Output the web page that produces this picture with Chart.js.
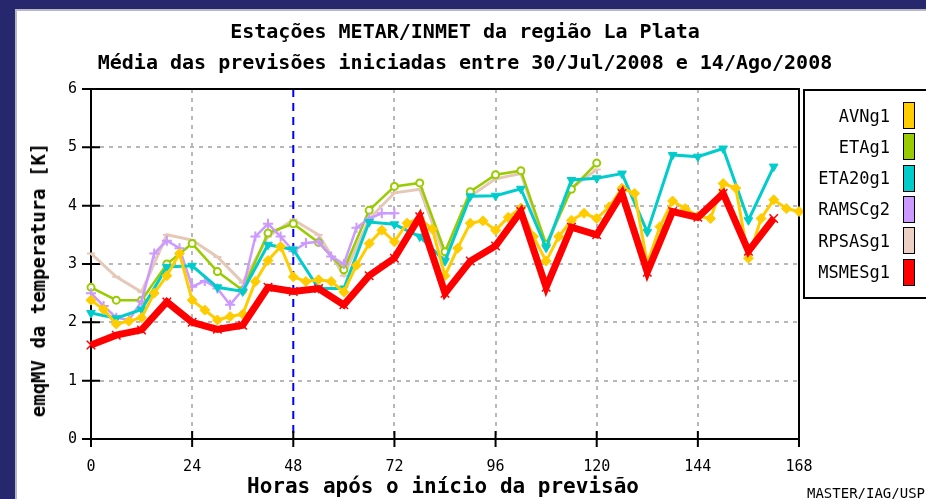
<!DOCTYPE html>
<html>
<head>
<meta charset="utf-8">
<script src="https://cdn.jsdelivr.net/npm/chart.js@4.4.0/dist/chart.umd.min.js"></script>
<style>
  html, body { margin: 0; padding: 0; }
  body {
    width: 926px; height: 499px; position: relative; overflow: hidden;
    background: #27276d; font-family: 'DejaVu Sans Mono', monospace;
  }
  #panel {
    position: absolute; left: 15px; top: 9px; right: 0; bottom: 0;
    background: #fff; border-left: 2px solid #b8b8c4; border-top: 2px solid #b8b8c4;
  }
  #chart { position: absolute; left: 0; top: 0; }
  .txt { position: absolute; white-space: nowrap; color: #000; }
  .title { font-weight: bold; font-size: 20px; left: 465px; transform: translate(-50%, -50%); }
  #ytitle { font-weight: bold; font-size: 19px; left: 38px; top: 280px; transform: translate(-50%, -50%) rotate(-90deg); }
  #xtitle { font-weight: bold; font-size: 21px; left: 443px; top: 486px; transform: translate(-50%, -50%); }
  #credit { font-size: 14px; right: 1px; top: 493px; transform: translateY(-50%); }
  #legend {
    position: absolute; left: 803px; top: 89px; width: 140px; height: 210px;
    border: 2px solid #000; box-sizing: border-box;
  }
  .lrow { position: absolute; left: 0; height: 27px; width: 120px; }
  .lrow span { position: absolute; right: 35px; top: 50%; transform: translateY(-50%); font-size: 17px; }
  .lrow i { position: absolute; left: 98px; top: 0; width: 10px; height: 25px; border: 1px solid #000; }
</style>
</head>
<body>
<div id="panel"></div>
<canvas id="chart" width="926" height="499"></canvas>
<div class="txt title" style="top:31px">Estações METAR/INMET da região La Plata</div>
<div class="txt title" style="top:62px">Média das previsões iniciadas entre 30/Jul/2008 e 14/Ago/2008</div>
<div class="txt" id="ytitle">emqMV da temperatura [K]</div>
<div class="txt" id="xtitle">Horas após o início da previsão</div>
<div class="txt" id="credit">MASTER/IAG/USP</div>
<div id="legend"></div>
<script>
// Forecast hours on the x axis and mean-error values on the y axis
const xTicks = [0, 24, 48, 72, 96, 120, 144, 168];
const yTicks = [0, 1, 2, 3, 4, 5, 6];
const ANALYSIS_HOUR = 48;

const seriesNames = ['AVNg1', 'ETAg1', 'ETA20g1', 'RAMSCg2', 'RPSASg1', 'MSMESg1'];
const seriesColors = ['#ffcc00', '#99cc00', '#00cccc', '#cc99ff', '#e6c8b8', '#ff0000'];
const legendColors = ['#ffcc00', '#99cc00', '#00cccc', '#cc99ff', '#ecd0c4', '#ff0000'];

// output interval (hours) of each model
const avnStep = 3, etaStep = 6, eta20Step = 6, ramsStep = 3, rpsasStep = 6, msmesStep = 6;

const avnValues = [2.38, 2.22, 1.97, 2.02, 2.08, 2.50, 2.80, 3.18, 2.38, 2.21, 2.04, 2.10, 2.14, 2.70,
  3.06, 3.30, 2.78, 2.70, 2.73, 2.70, 2.52, 2.98, 3.35, 3.58, 3.38, 3.70, 3.78, 3.60, 2.80, 3.27, 3.70,
  3.74, 3.58, 3.80, 3.96, 3.47, 3.05, 3.47, 3.75, 3.87, 3.78, 3.98, 4.30, 4.21, 3.01, 3.64, 4.08, 3.95,
  3.82, 3.78, 4.38, 4.30, 3.10, 3.78, 4.10, 3.95, 3.90];
const etaValues = [2.60, 2.38, 2.38, 3.00, 3.35, 2.87, 2.55, 3.53, 3.69, 3.37, 2.90, 3.92, 4.33, 4.39,
  3.21, 4.24, 4.53, 4.60, 3.34, 4.28, 4.73];
const eta20Values = [2.16, 2.07, 2.22, 2.95, 2.97, 2.60, 2.53, 3.33, 3.25, 2.58, 2.58, 3.72, 3.68, 3.47,
  3.05, 4.16, 4.17, 4.29, 3.28, 4.44, 4.47, 4.55, 3.55, 4.87, 4.84, 4.98, 3.75, 4.67];
const ramsValues = [2.50, 2.28, 2.08, 2.04, 2.36, 3.18, 3.40, 3.27, 2.61, 2.71, 2.58, 2.30, 2.56, 3.47,
  3.69, 3.47, 3.22, 3.36, 3.38, 3.13, 3.00, 3.62, 3.78, 3.87, 3.87];
const rpsasValues = [3.18, 2.78, 2.52, 3.50, 3.41, 3.12, 2.68, 3.47, 3.76, 3.50, 2.80, 3.77, 4.22, 4.28,
  3.12, 4.16, 4.46, 4.55, 3.30, 4.30, 4.62];
const msmesValues = [1.61, 1.78, 1.87, 2.35, 2.00, 1.88, 1.95, 2.60, 2.53, 2.58, 2.30, 2.80, 3.10, 3.81,
  2.50, 3.05, 3.31, 3.90, 2.60, 3.63, 3.50, 4.21, 2.86, 3.90, 3.80, 4.21, 3.22, 3.78];

const toPoints = (vals, step) => vals.map((v, i) => ({ x: i * step, y: v }));

const datasets = [
  { label: seriesNames[0], data: toPoints(avnValues, avnStep), borderColor: seriesColors[0],
    backgroundColor: seriesColors[0], borderWidth: 3, pointStyle: 'rectRot', pointRadius: 5,
    pointBorderWidth: 1, order: 1 },
  { label: seriesNames[1], data: toPoints(etaValues, etaStep), borderColor: seriesColors[1],
    backgroundColor: '#ffffff', borderWidth: 2.5, pointStyle: 'circle', pointRadius: 3.5,
    pointBorderWidth: 2, order: 4 },
  { label: seriesNames[2], data: toPoints(eta20Values, eta20Step), borderColor: seriesColors[2],
    backgroundColor: seriesColors[2], borderWidth: 3, pointStyle: 'triangle', pointRotation: 180,
    pointRadius: 5, pointBorderWidth: 1, order: 2 },
  { label: seriesNames[3], data: toPoints(ramsValues, ramsStep), borderColor: seriesColors[3],
    backgroundColor: seriesColors[3], borderWidth: 2.5, pointStyle: 'cross', pointRadius: 5,
    pointBorderWidth: 2, order: 3 },
  { label: seriesNames[4], data: toPoints(rpsasValues, rpsasStep), borderColor: seriesColors[4],
    backgroundColor: seriesColors[4], borderWidth: 3, pointStyle: 'line', pointRadius: 4,
    pointBorderWidth: 2, order: 5 },
  { label: seriesNames[5], data: toPoints(msmesValues, msmesStep), borderColor: seriesColors[5],
    backgroundColor: seriesColors[5], borderWidth: 7, pointStyle: 'crossRot', pointRadius: 6,
    pointBorderWidth: 1.5, order: 0 }
];

// black frame, crossing tick marks and the dashed analysis-time marker
const framePlugin = {
  id: 'frame',
  beforeDatasetsDraw(chart) {
    const { ctx, chartArea: a, scales: { x, y } } = chart;
    ctx.save();
    const xa = x.getPixelForValue(ANALYSIS_HOUR);
    ctx.strokeStyle = '#0000ff';
    ctx.lineWidth = 2;
    ctx.setLineDash([8, 6]);
    ctx.beginPath();
    ctx.moveTo(xa, a.top);
    ctx.lineTo(xa, a.bottom);
    ctx.stroke();
    ctx.setLineDash([]);
    ctx.strokeStyle = '#000';
    ctx.lineWidth = 2;
    ctx.strokeRect(a.left, a.top, a.right - a.left, a.bottom - a.top);
    ctx.beginPath();
    y.ticks.forEach(t => {
      const p = y.getPixelForValue(t.value);
      ctx.moveTo(a.left - 9, p); ctx.lineTo(a.left + 9, p);
    });
    x.ticks.forEach(t => {
      const p = x.getPixelForValue(t.value);
      ctx.moveTo(p, a.bottom - 8); ctx.lineTo(p, a.bottom + 8);
    });
    ctx.stroke();
    ctx.restore();
  }
};

const gridColor = (skip) => (c) => (c.tick && skip.includes(c.tick.value)) ? 'rgba(0,0,0,0)' : '#b8b8b8';

new Chart(document.getElementById('chart'), {
  type: 'line',
  data: { datasets },
  plugins: [framePlugin],
  options: {
    responsive: false,
    animation: false,
    layout: { padding: { left: 0, top: 89, right: 127, bottom: 0 } },
    elements: { line: { tension: 0 } },
    plugins: { legend: { display: false }, title: { display: false }, tooltip: { enabled: false } },
    datasets: { line: { clip: false } },
    scales: {
      x: {
        type: 'linear', min: xTicks[0], max: xTicks[xTicks.length - 1],
        afterBuildTicks: s => { s.ticks = xTicks.map(v => ({ value: v })); },
        afterFit: s => { s.height = 60; },
        grid: { color: gridColor([xTicks[0], ANALYSIS_HOUR, xTicks[xTicks.length - 1]]), lineWidth: 2, drawTicks: false },
        border: { display: false, dash: [4, 5] },
        ticks: { color: '#000', padding: 19, maxRotation: 0, font: { family: 'DejaVu Sans Mono', size: 15 } }
      },
      y: {
        type: 'linear', min: yTicks[0], max: yTicks[yTicks.length - 1],
        afterBuildTicks: s => { s.ticks = yTicks.map(v => ({ value: v })); },
        afterFit: s => { s.width = 91; },
        grid: { color: gridColor([yTicks[0], yTicks[yTicks.length - 1]]), lineWidth: 2, drawTicks: false },
        border: { display: false, dash: [4, 5] },
        ticks: { color: '#000', padding: 14, font: { family: 'DejaVu Sans Mono', size: 15 } }
      }
    }
  }
});

// legend: name followed by a colour swatch
const legend = document.getElementById('legend');
seriesNames.forEach((name, i) => {
  const row = document.createElement('div');
  row.className = 'lrow';
  row.style.top = (11 + i * 31.3) + 'px';
  const s = document.createElement('span');
  s.textContent = name;
  const sw = document.createElement('i');
  sw.style.background = legendColors[i];
  row.appendChild(s);
  row.appendChild(sw);
  legend.appendChild(row);
});
</script>
</body>
</html>
